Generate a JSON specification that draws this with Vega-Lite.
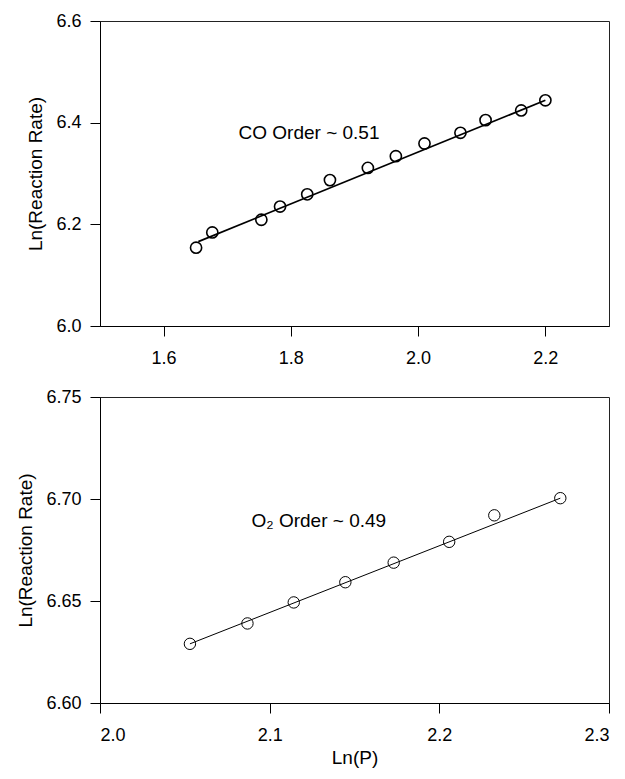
{
  "$schema": "https://vega.github.io/schema/vega-lite/v6.json",
  "padding": {"left": 16, "top": 11, "right": 5, "bottom": 5},
  "background": "white",
  "spacing": 19,
  "config": {
    "font": "Liberation Sans",
    "view": {"stroke": "#222222", "strokeWidth": 1},
    "axis": {
      "grid": false,
      "domainColor": "black",
      "tickColor": "black",
      "tickSize": 10,
      "labelFontSize": 18,
      "titleFontSize": 19,
      "labelColor": "black",
      "titleColor": "black",
      "titleFontWeight": "normal",
      "labelFont": "Liberation Sans",
      "titleFont": "Liberation Sans"
    },
    "axisX": {"labelPadding": 13, "titlePadding": 4},
    "axisY": {"labelPadding": 9, "titlePadding": 10}
  },
  "datasets": {
    "co": [
      {"lnP": 1.651, "lnRate": 6.154},
      {"lnP": 1.6765, "lnRate": 6.184},
      {"lnP": 1.7536, "lnRate": 6.209},
      {"lnP": 1.783, "lnRate": 6.235},
      {"lnP": 1.8257, "lnRate": 6.259},
      {"lnP": 1.8614, "lnRate": 6.287},
      {"lnP": 1.921, "lnRate": 6.311},
      {"lnP": 1.965, "lnRate": 6.334},
      {"lnP": 2.01, "lnRate": 6.359},
      {"lnP": 2.0665, "lnRate": 6.38},
      {"lnP": 2.106, "lnRate": 6.405},
      {"lnP": 2.162, "lnRate": 6.424},
      {"lnP": 2.2, "lnRate": 6.444}
    ],
    "co_fit": [
      {"lnP": 1.6545, "lnRate": 6.166},
      {"lnP": 2.2, "lnRate": 6.444}
    ],
    "co_label": [
      {"lnP": 1.7177, "lnRate": 6.368, "text": "CO Order ~ 0.51"}
    ],
    "o2": [
      {"lnP": 2.053, "lnRate": 6.629},
      {"lnP": 2.0869, "lnRate": 6.639},
      {"lnP": 2.1142, "lnRate": 6.6493},
      {"lnP": 2.1446, "lnRate": 6.6592},
      {"lnP": 2.1731, "lnRate": 6.6688},
      {"lnP": 2.2058, "lnRate": 6.679},
      {"lnP": 2.2324, "lnRate": 6.692},
      {"lnP": 2.2713, "lnRate": 6.7004}
    ],
    "o2_fit": [
      {"lnP": 2.053, "lnRate": 6.629},
      {"lnP": 2.2713, "lnRate": 6.7004}
    ],
    "o2_label": [
      {"lnP": 2.0893, "lnRate": 6.6864, "text": "O₂ Order ~ 0.49"}
    ]
  },
  "vconcat": [
    {
      "width": 509,
      "height": 305,
      "layer": [
        {
          "data": {"name": "co_fit"},
          "mark": {"type": "line", "color": "black", "strokeWidth": 1.7},
          "encoding": {
            "x": {"field": "lnP", "type": "quantitative", "scale": {"domain": [1.5, 2.3], "nice": false, "zero": false}, "axis": {"values": [1.6, 1.8, 2.0, 2.2], "format": ".1f", "title": null}},
            "y": {"field": "lnRate", "type": "quantitative", "scale": {"domain": [6.0, 6.6], "nice": false, "zero": false}, "axis": {"values": [6.0, 6.2, 6.4, 6.6], "format": ".1f", "title": "Ln(Reaction Rate)"}}
          }
        },
        {
          "data": {"name": "co"},
          "mark": {"type": "point", "shape": "circle", "filled": false, "color": "black", "size": 125, "strokeWidth": 1.6, "opacity": 1},
          "encoding": {
            "x": {"field": "lnP", "type": "quantitative"},
            "y": {"field": "lnRate", "type": "quantitative"}
          }
        },
        {
          "data": {"name": "co_label"},
          "mark": {"type": "text", "align": "left", "baseline": "alphabetic", "fontSize": 19, "font": "Liberation Sans", "color": "black"},
          "encoding": {
            "x": {"field": "lnP", "type": "quantitative"},
            "y": {"field": "lnRate", "type": "quantitative"},
            "text": {"field": "text"}
          }
        }
      ]
    },
    {
      "width": 509,
      "height": 306,
      "layer": [
        {
          "data": {"name": "o2_fit"},
          "mark": {"type": "line", "color": "black", "strokeWidth": 1},
          "encoding": {
            "x": {"field": "lnP", "type": "quantitative", "scale": {"domain": [2.0, 2.3], "nice": false, "zero": false}, "axis": {"values": [2.0, 2.1, 2.2, 2.3], "format": ".1f", "title": "Ln(P)"}},
            "y": {"field": "lnRate", "type": "quantitative", "scale": {"domain": [6.6, 6.75], "nice": false, "zero": false}, "axis": {"values": [6.6, 6.65, 6.7, 6.75], "format": ".2f", "title": "Ln(Reaction Rate)"}}
          }
        },
        {
          "data": {"name": "o2"},
          "mark": {"type": "point", "shape": "circle", "filled": false, "color": "black", "size": 130, "strokeWidth": 1, "opacity": 1},
          "encoding": {
            "x": {"field": "lnP", "type": "quantitative"},
            "y": {"field": "lnRate", "type": "quantitative"}
          }
        },
        {
          "data": {"name": "o2_label"},
          "mark": {"type": "text", "align": "left", "baseline": "alphabetic", "fontSize": 19, "font": "Liberation Sans", "color": "black"},
          "encoding": {
            "x": {"field": "lnP", "type": "quantitative"},
            "y": {"field": "lnRate", "type": "quantitative"},
            "text": {"field": "text"}
          }
        }
      ]
    }
  ]
}
